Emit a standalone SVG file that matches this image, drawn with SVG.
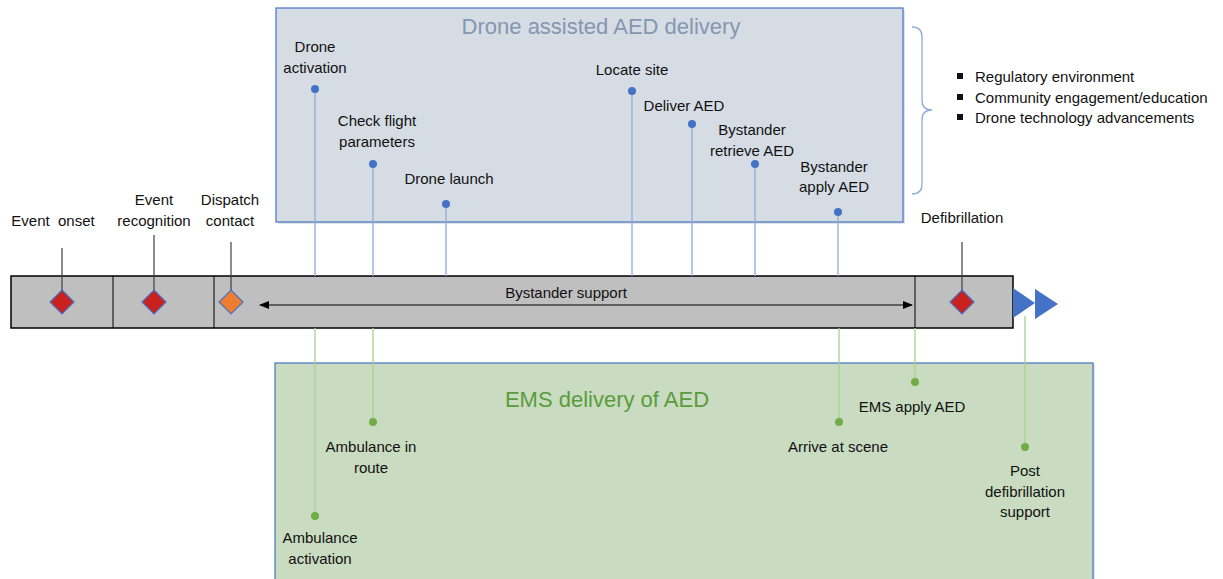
<svg xmlns="http://www.w3.org/2000/svg" width="1223" height="579" viewBox="0 0 1223 579">
<defs>
<style>
.t{font-family:"Liberation Sans",Arial,sans-serif;font-size:15px;fill:#111;text-anchor:middle}
.tl{font-family:"Liberation Sans",Arial,sans-serif;font-size:15px;fill:#111}
.bl{stroke:#8FAADC;stroke-width:1.3;fill:none}
.gl{stroke:#A9D18E;stroke-width:1.3;fill:none}
.bd{fill:#4472C4}
.gd{fill:#70AD47}
.dk{stroke:#404040;stroke-width:1.2}
.dia{stroke:#4472C4;stroke-width:1.2}
</style>
<marker id="ah" markerWidth="10" markerHeight="8" refX="9" refY="4" orient="auto-start-reverse" markerUnits="userSpaceOnUse">
<path d="M0,0 L10,4 L0,8 Z" fill="#000"/>
</marker>
</defs>
<rect width="1223" height="579" fill="#fff"/>

<g id="drone-box">
<rect x="278" y="10" width="627" height="214" fill="#B0B0B0" opacity="0.35"/>
<rect x="276" y="8" width="627" height="214" fill="#D6DCE4" stroke="#4472C4" stroke-width="1.2"/>
<text x="601" y="34" font-family="Liberation Sans,Arial,sans-serif" font-size="22" fill="#8497B0" text-anchor="middle">Drone assisted AED delivery</text>
</g>

<g id="ems-box">
<rect x="277" y="365" width="818" height="216" fill="#B0B0B0" opacity="0.35"/>
<rect x="275" y="363" width="818" height="220" fill="#C9DBC0" stroke="#4472C4" stroke-width="1.2"/>
<text x="607" y="407" font-family="Liberation Sans,Arial,sans-serif" font-size="22" fill="#5B9B3C" text-anchor="middle">EMS delivery of AED</text>
</g>

<g id="timeline">
<rect x="11" y="276" width="1002" height="52" fill="#BFBFBF" stroke="#000" stroke-width="1.5"/>
<line x1="113" y1="276" x2="113" y2="328" stroke="#000" stroke-width="1"/>
<line x1="214" y1="276" x2="214" y2="328" stroke="#000" stroke-width="1"/>
<line x1="915" y1="276" x2="915" y2="328" stroke="#000" stroke-width="1"/>
<polygon points="1013,288 1035,303 1013,318" fill="#4472C4"/>
<polygon points="1035,289 1058,304 1035,319" fill="#4472C4"/>
</g>

<g id="connectors">
<line x1="62" y1="248" x2="62" y2="291" class="dk"/>
<line x1="154" y1="235" x2="154" y2="291" class="dk"/>
<line x1="231" y1="242" x2="231" y2="291" class="dk"/>
<line x1="962" y1="242" x2="962" y2="291" class="dk"/>
<line x1="260" y1="305" x2="912" y2="305" stroke="#000" stroke-width="1" marker-start="url(#ah)" marker-end="url(#ah)"/>
<line x1="315" y1="89" x2="315" y2="276" class="bl"/>
<line x1="373" y1="164" x2="373" y2="276" class="bl"/>
<line x1="446" y1="204" x2="446" y2="276" class="bl"/>
<line x1="632" y1="91" x2="632" y2="276" class="bl"/>
<line x1="692" y1="124" x2="692" y2="276" class="bl"/>
<line x1="755" y1="164" x2="755" y2="276" class="bl"/>
<line x1="838" y1="212" x2="838" y2="276" class="bl"/>
<line x1="315" y1="328" x2="315" y2="516" class="gl"/>
<line x1="373" y1="328" x2="373" y2="422" class="gl"/>
<line x1="839" y1="328" x2="839" y2="422" class="gl"/>
<line x1="915" y1="328" x2="915" y2="382" class="gl"/>
<line x1="1025" y1="316" x2="1025" y2="447" class="gl"/>
<path d="M912,27 Q922,27 922,37 L922,100 Q922,110 932,110 Q922,110 922,120 L922,184 Q922,194 912,194" class="bl"/>
</g>

<g id="event-onset">
<polygon points="62,290 74,302 62,314 50,302" fill="#C9211E" class="dia"/>
<text x="53" y="226" class="t" xml:space="preserve">Event  onset</text>
</g>
<g id="event-recognition">
<polygon points="154,290 166,302 154,314 142,302" fill="#C9211E" class="dia"/>
<text x="154" y="205" class="t">Event</text>
<text x="154" y="226" class="t">recognition</text>
</g>
<g id="dispatch-contact">
<polygon points="231,290 243,302 231,314 219,302" fill="#ED7D31" class="dia"/>
<text x="230" y="205" class="t">Dispatch</text>
<text x="230" y="226" class="t">contact</text>
</g>
<g id="defibrillation">
<polygon points="962,290 974,302 962,314 950,302" fill="#C9211E" class="dia"/>
<text x="962" y="223" class="t">Defibrillation</text>
</g>
<g id="bystander-support">
<text x="566" y="298" class="t">Bystander support</text>
</g>

<g id="drone-activation">
<circle cx="315" cy="89" r="4" class="bd"/>
<text x="315" y="52" class="t">Drone</text>
<text x="315" y="73" class="t">activation</text>
</g>
<g id="check-flight">
<circle cx="373" cy="164" r="4" class="bd"/>
<text x="377" y="126" class="t">Check flight</text>
<text x="377" y="147" class="t">parameters</text>
</g>
<g id="drone-launch">
<circle cx="446" cy="204" r="4" class="bd"/>
<text x="449" y="184" class="t">Drone launch</text>
</g>
<g id="locate-site">
<circle cx="632" cy="91" r="4" class="bd"/>
<text x="632" y="75" class="t">Locate site</text>
</g>
<g id="deliver-aed">
<circle cx="692" cy="124" r="4" class="bd"/>
<text x="684" y="111" class="t">Deliver AED</text>
</g>
<g id="bystander-retrieve">
<circle cx="755" cy="164" r="4" class="bd"/>
<text x="752" y="135" class="t">Bystander</text>
<text x="752" y="156" class="t">retrieve AED</text>
</g>
<g id="bystander-apply">
<circle cx="838" cy="212" r="4" class="bd"/>
<text x="834" y="172" class="t">Bystander</text>
<text x="834" y="192" class="t">apply AED</text>
</g>

<g id="ambulance-activation">
<circle cx="315" cy="516" r="4" class="gd"/>
<text x="320" y="543" class="t">Ambulance</text>
<text x="320" y="564" class="t">activation</text>
</g>
<g id="ambulance-route">
<circle cx="373" cy="422" r="4" class="gd"/>
<text x="371" y="452" class="t">Ambulance in</text>
<text x="371" y="473" class="t">route</text>
</g>
<g id="arrive-scene">
<circle cx="839" cy="422" r="4" class="gd"/>
<text x="838" y="452" class="t">Arrive at scene</text>
</g>
<g id="ems-apply">
<circle cx="915" cy="382" r="4" class="gd"/>
<text x="912" y="412" class="t">EMS apply AED</text>
</g>
<g id="post-defib">
<circle cx="1025" cy="447" r="4" class="gd"/>
<text x="1025" y="476" class="t">Post</text>
<text x="1025" y="497" class="t">defibrillation</text>
<text x="1025" y="517" class="t">support</text>
</g>

<g id="factors">
<rect x="957" y="73" width="6" height="6" fill="#111"/>
<rect x="957" y="94" width="6" height="6" fill="#111"/>
<rect x="957" y="114" width="6" height="6" fill="#111"/>
<text x="975" y="82" class="tl">Regulatory environment</text>
<text x="975" y="103" class="tl">Community engagement/education</text>
<text x="975" y="123" class="tl">Drone technology advancements</text>
</g>
</svg>
